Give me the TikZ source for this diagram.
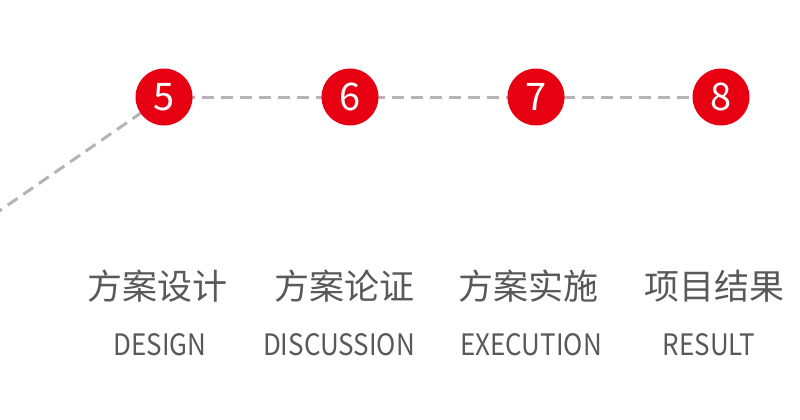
\documentclass[tikz,border=0pt]{standalone}
\usepackage{fontspec}
\setmainfont{Noto Sans CJK SC}
\newfontfamily\enfont[FakeStretch=0.88]{Noto Sans CJK SC}
\usepackage{tikz}

\definecolor{stepred}{HTML}{E60012}
\definecolor{linegray}{HTML}{B4B4B4}
\definecolor{textgray}{HTML}{595959}

\tikzset{
  stepdot/.style={circle,fill=stepred,minimum size=57pt,inner sep=0pt,
    text=white,font=\fontsize{38}{38}\selectfont},
  dashline/.style={linegray,line width=3pt,dash pattern=on 12pt off 7pt},
  cnlabel/.style={text=textgray,inner sep=0pt,font=\fontsize{35}{35}\selectfont},
  enlabel/.style={text=textgray,inner sep=0pt,text depth=0pt,
    font=\enfont\fontsize{29.5}{29.5}\selectfont}
}

\begin{document}
\begin{tikzpicture}[x=1pt,y=-1pt]
\useasboundingbox (0,0) rectangle (800,420);
\clip (0,0) rectangle (800,420);

\coordinate (start) at (-8,216);
\coordinate (s5) at (164,97);
\coordinate (s8) at (721,97);

% dashed path behind the dots
\draw[dashline] (start)--(s5);
\draw[dashline] (s5)--(s8);

\node[stepdot] (five)  at (164,97) {5};
\node[stepdot] (six)   at (350,97) {6};
\node[stepdot] (seven) at (536,97) {7};
\node[stepdot] (eight) at (721,97) {8};

\node[cnlabel] (design-cn) at (157,286) {方案设计};
\node[cnlabel] (discuss-cn) at (344,286) {方案论证};
\node[cnlabel] (exec-cn) at (528,286) {方案实施};
\node[cnlabel] (result-cn) at (714,286) {项目结果};

\node[enlabel] (design-en) at (160,344) {DESIGN};
\node[enlabel] (discuss-en) at (339,344) {DISCUSSION};
\node[enlabel] (exec-en) at (531,344) {EXECUTION};
\node[enlabel] (result-en) at (709,344) {RESULT};
\end{tikzpicture}
\end{document}
